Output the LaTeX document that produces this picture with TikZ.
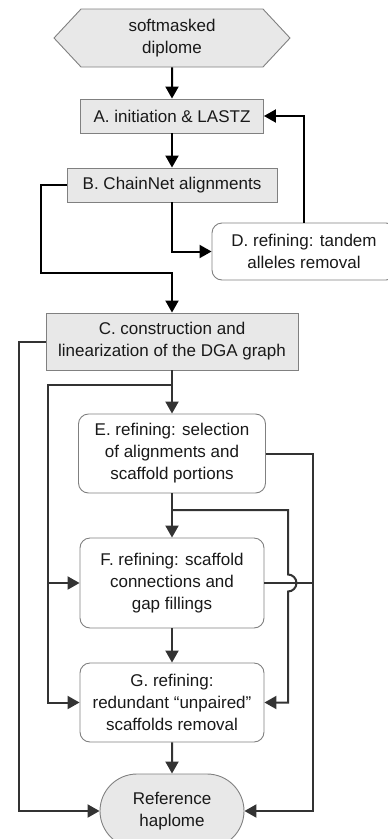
\documentclass[tikz,border=0pt]{standalone}
\usepackage{fontspec}
\setmainfont{Liberation Sans}
\usetikzlibrary{shapes.symbols,shapes.misc,arrows.meta}

\begin{document}
\begin{tikzpicture}[x=1pt,y=-1pt,>={Triangle[length=12pt,width=13pt]},
    font=\fontsize{17}{22}\selectfont,
    box/.style={draw=gray,line width=0.9pt,align=center,inner sep=0pt,text=black!90},
    stage/.style={box,fill=gray!18},
    refine/.style={box,fill=white,rounded corners=10pt},
    entry/.style={stage,signal,signal to=west and east,signal pointer angle=94},
    flow/.style={->,line width=2pt,black},
    subflow/.style={->,line width=2pt,black!80}]
    \useasboundingbox (0,0) rectangle (388,839);
    \clip (0,0) rectangle (388,839);
    \node[entry,minimum width=236pt,minimum height=58pt] (in) at (172,38) {softmasked\\diplome};
    \node[stage,minimum width=183pt,minimum height=34pt] (a) at (172,116) {A. initiation \& LASTZ};
    \node[stage,minimum width=210pt,minimum height=34pt] (b) at (172,185) {B. ChainNet alignments};
    \node[refine,minimum width=184pt,minimum height=57pt] (d) at (304,251.5) {D. refining: tandem\\alleles removal};
    \node[stage,minimum width=252pt,minimum height=57pt] (c) at (172,341.5) {C. construction and\\linearization of the DGA graph};
    \node[refine,minimum width=187pt,minimum height=79pt] (e) at (172,453.5) {E. refining: selection\\of alignments and\\scaffold portions};
    \node[refine,minimum width=184pt,minimum height=90pt] (f) at (172,583) {F. refining: scaffold\\connections and\\gap fillings};
    \node[refine,minimum width=184pt,minimum height=79pt] (g) at (172,702.5) {G. refining:\\redundant “unpaired”\\scaffolds removal};
    \node[stage,rounded rectangle,minimum width=144pt,minimum height=74pt] (ref) at (172,811) {Reference\\haplome};
    \coordinate (bl) at (41,273);
    \coordinate (cfork) at (172,385);
    \coordinate (lbus) at (48,385);
    \coordinate (efork) at (172,510);
    \coordinate (hop) at (288,583);
    \coordinate (rbus) at (313,453.5);
    \draw[flow] (in) -- (a);
    \draw[flow] (a) -- (b);
    \draw[flow] (b.west) -| (bl) -| (c.north);
    \draw[flow] (b.south) |- (d.west);
    \draw[flow] (d.north) |- (a.east);
    \draw[subflow] (c.west) -- ++(-27,0) |- (ref.west);
    \draw[subflow] (c) -- (e);
    \draw[subflow] (cfork) -- (lbus) |- (g.west);
    \draw[subflow] (lbus |- f.west) -- (f.west);
    \draw[subflow] (e.east) -- (rbus) |- (ref.east);
    \draw[subflow] (e) -- (f);
    \draw[subflow,-] (f.east) -- (f.east -| rbus);
    \draw[subflow] (efork) -| ([yshift=8.5pt]hop) arc[start angle=90,end angle=-90,radius=8.5pt] |- (g.east);
    \draw[subflow] (f) -- (g);
    \draw[subflow] (g) -- (ref);
\end{tikzpicture}
\end{document}
